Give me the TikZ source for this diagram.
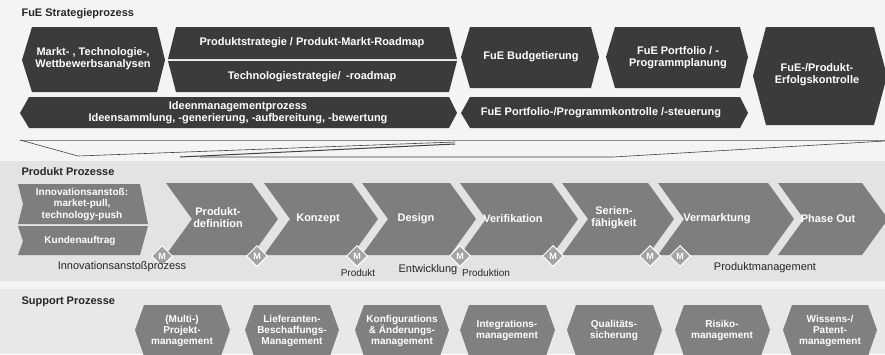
\documentclass[tikz,border=0pt]{standalone}
\usepackage{fontspec}
\setmainfont{Liberation Sans}
\usetikzlibrary{shapes.geometric}
\definecolor{stratgray}{HTML}{3B3B3B}
\definecolor{chevgray}{HTML}{7E7E7E}
\definecolor{supgray}{HTML}{808080}
\definecolor{mgray}{HTML}{A3A3A3}
\definecolor{paper}{HTML}{F4F4F4}
\definecolor{band}{HTML}{E3E3E3}

\begin{document}
\begin{tikzpicture}[x = 1pt, y = -1pt,
    sectionhead/.style = {anchor = west, font = \bfseries\fontsize{11}{12}\selectfont, text = black!85},
    boxtext/.style = {align = center, text = white, font = \bfseries\fontsize{11}{12}\selectfont},
    suptext/.style = {align = center, text = white, font = \bfseries\fontsize{10}{11}\selectfont},
    note/.style = {text = black!85, font = \fontsize{11}{12}\selectfont},
    funnel/.style = {draw = black!75, line width = 0.6pt},
    milestone/.style = {diamond, fill = mgray, draw = white, line width = 1pt, inner sep = 0pt,
      minimum width = 21pt, minimum height = 21pt, text = white, font = \bfseries\fontsize{9}{9}\selectfont}]
    \clip (0,0) rectangle (885,354);
    \fill [paper] (0,0) rectangle (885,354);
    \fill [band] (0,161) rectangle (885,281);
    \fill [band!70!paper] (0,289) rectangle (885,354);

    % FuE strategy process
    \node [sectionhead] (fue) at (18,14) {FuE Strategieprozess};
    \fill [stratgray] (22,60) -- (32,27) -- (157,27) -- (165,60) -- (157,92) -- (32,92) -- cycle;
    \node [boxtext] (markt) at (93,59) {Markt- , Technologie-,\\Wettbewerbsanalysen};
    \fill [stratgray] (168,59) -- (176,27) -- (449,27) -- (457,59) -- cycle;
    \node [boxtext] (pstrat) at (312,43) {Produktstrategie / Produkt-Markt-Roadmap};
    \fill [stratgray] (168,61) -- (457,61) -- (449,92) -- (176,92) -- cycle;
    \node [boxtext] (tstrat) at (312,77) {Technologiestrategie/\enspace-roadmap};
    \fill [stratgray] (461,57) -- (470,27) -- (591,27) -- (599,57) -- (591,88) -- (470,88) -- cycle;
    \node [boxtext] (budget) at (531,57) {FuE Budgetierung};
    \fill [stratgray] (606,57) -- (615,27) -- (740,27) -- (748,57) -- (740,88) -- (615,88) -- cycle;
    \node [boxtext] (portfolio) at (678,58) {FuE Portfolio / -\\Programmplanung};
    \fill [stratgray] (753,76) -- (766,27) -- (874,27) -- (887,76) -- (874,125) -- (766,125) -- cycle;
    \node [boxtext] (erfolg) at (817,75) {FuE-/Produkt-\\Erfolgskontrolle};
    \fill [stratgray] (20,113) -- (29,97) -- (449,97) -- (457,113) -- (449,128) -- (29,128) -- cycle;
    \node [boxtext] (ideen) at (238,113) {Ideenmanagementprozess\\Ideensammlung, -generierung, -aufbereitung, -bewertung};
    \fill [stratgray] (461,113) -- (470,97) -- (740,97) -- (748,113) -- (740,128) -- (470,128) -- cycle;
    \node [boxtext] (kontrolle) at (601,113) {FuE Portfolio-/Programmkontrolle /-steuerung};

    % funnel down to the product processes
    \draw [funnel, draw = black!45] (20,140) -- (885,140);
    \draw [funnel] (20,140) -- (78,156) -- (455,142);
    \draw [funnel, line width = 1pt] (180,157) -- (455,144);
    \draw [funnel] (200,157) -- (613,157) -- (885,141);

    % product processes
    \node [sectionhead] (produkt) at (18,172) {Produkt Prozesse};
    \fill [chevgray] (18,184) -- (140,184) -- (148,224) -- (18,224) -- (23,204) -- cycle;
    \node [boxtext, font = \bfseries\fontsize{10}{11.5}\selectfont] (anstoss) at (82,204)
      {Innovationsanstoß:\\market-pull,\\technology-push};
    \fill [chevgray] (18,226) -- (148,226) -- (140,255) -- (18,255) -- (23,241) -- cycle;
    \node [boxtext, font = \bfseries\fontsize{10}{11}\selectfont] (kunde) at (80,241) {Kundenauftrag};
    \fill [chevgray] (166,183) -- (252,183) -- (278,219) -- (252,255) -- (166,255) -- (192,219) -- cycle;
    \node [boxtext] (pdef) at (218,218) {Produkt-\\definition};
    \fill [chevgray] (264,183) -- (352,183) -- (378,219) -- (352,255) -- (264,255) -- (290,219) -- cycle;
    \node [boxtext] (konzept) at (318,219) {Konzept};
    \fill [chevgray] (362,183) -- (450,183) -- (476,219) -- (450,255) -- (362,255) -- (388,219) -- cycle;
    \node [boxtext] (design) at (416,219) {Design};
    \fill [chevgray] (460,183) -- (552,183) -- (578,219) -- (552,255) -- (460,255) -- (486,219) -- cycle;
    \node [boxtext] (verif) at (513,219) {Verifikation};
    \fill [chevgray] (562,183) -- (648,183) -- (674,219) -- (648,255) -- (562,255) -- (588,219) -- cycle;
    \node [boxtext] (serie) at (614,218) {Serien-\\fähigkeit};
    \fill [chevgray] (658,183) -- (768,183) -- (794,219) -- (768,255) -- (658,255) -- (684,219) -- cycle;
    \node [boxtext] (vermarkt) at (717,219) {Vermarktung};
    \fill [chevgray] (778,183) -- (862,183) -- (888,219) -- (862,255) -- (778,255) -- (804,219) -- cycle;
    \node [boxtext] (phaseout) at (828,219) {Phase Out};

    \node [milestone] (m1) at (162,256) {M};
    \node [milestone] (m2) at (257,256) {M};
    \node [milestone] (m3) at (357,256) {M};
    \node [milestone] (m4) at (460,256) {M};
    \node [milestone] (m5) at (553,256) {M};
    \node [milestone] (m6) at (650,256) {M};
    \node [milestone] (m7) at (680,256) {M};

    \node [note] (iprozess) at (122,267) {Innovationsanstoßprozess};
    \node [note, font = \fontsize{10}{11}\selectfont] (lprodukt) at (358,273) {Produkt};
    \node [note] (lentw) at (428,270) {Entwicklung};
    \node [note, font = \fontsize{10}{11}\selectfont] (lprod) at (486,273) {Produktion};
    \node [note] (lpm) at (765,268) {Produktmanagement};

    % support processes
    \node [sectionhead] (support) at (18,302) {Support Prozesse};
    \fill [supgray] (135,330) -- (144,305) -- (221,305) -- (230,330) -- (221,356) -- (144,356) -- cycle;
    \node [suptext] (projekt) at (182,331) {(Multi-)\\Projekt-\\management};
    \fill [supgray] (245,330) -- (254,305) -- (330,305) -- (339,330) -- (330,356) -- (254,356) -- cycle;
    \node [suptext] (liefer) at (292,331) {Lieferanten-\\Beschaffungs-\\Management};
    \fill [supgray] (355,330) -- (364,305) -- (440,305) -- (449,330) -- (440,356) -- (364,356) -- cycle;
    \node [suptext] (konfig) at (402,331) {Konfigurations\\\& Änderungs-\\management};
    \fill [supgray] (460,330) -- (469,305) -- (546,305) -- (555,330) -- (546,356) -- (469,356) -- cycle;
    \node [suptext] (integr) at (507,330) {Integrations-\\management};
    \fill [supgray] (567,330) -- (576,305) -- (653,305) -- (662,330) -- (653,356) -- (576,356) -- cycle;
    \node [suptext] (quali) at (614,330) {Qualitäts-\\sicherung};
    \fill [supgray] (675,330) -- (684,305) -- (761,305) -- (770,330) -- (761,356) -- (684,356) -- cycle;
    \node [suptext] (risiko) at (722,330) {Risiko-\\management};
    \fill [supgray] (783,330) -- (792,305) -- (868,305) -- (877,330) -- (868,356) -- (792,356) -- cycle;
    \node [suptext] (wissen) at (830,331) {Wissens-/\\Patent-\\management};
  \end{tikzpicture}
\end{document}
